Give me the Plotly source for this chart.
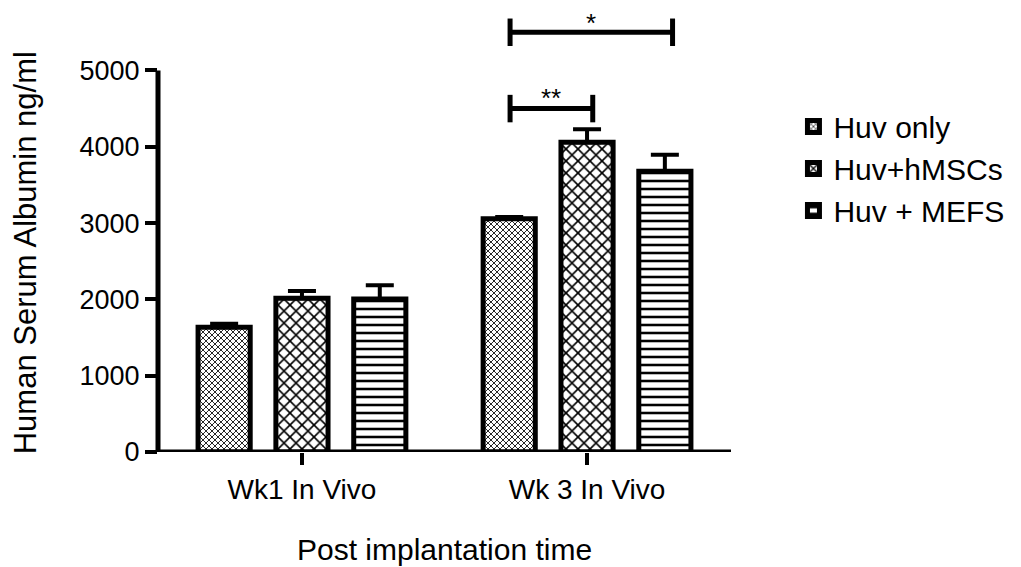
import plotly.graph_objects as go

# ---- data ----
categories = ["Wk1 In Vivo", "Wk 3 In Vivo"]
series_names = ["Huv only", "Huv+hMSCs", "Huv + MEFS"]
huv_only = [1635, 3055]
huv_only_err = [45, 25]
huv_hmscs = [2015, 4060]
huv_hmscs_err = [95, 170]
huv_mefs = [2005, 3680]
huv_mefs_err = [180, 215]
y_ticks = [0, 1000, 2000, 3000, 4000, 5000]

FONT = "Liberation Sans, Arial, sans-serif"

patterns = [
    dict(shape="x", size=4.2426, solidity=0.36, fgcolor="black", bgcolor="white", fgopacity=1),
    dict(shape="x", size=8.4853, solidity=0.36, fgcolor="black", bgcolor="white", fgopacity=1),
    dict(shape="-", size=8, solidity=0.32, fgcolor="black", bgcolor="white", fgopacity=1),
]

fig = go.Figure()
for name, vals, errs, pat in zip(series_names,
                                 [huv_only, huv_hmscs, huv_mefs],
                                 [huv_only_err, huv_hmscs_err, huv_mefs_err],
                                 patterns):
    fig.add_trace(go.Bar(
        x=categories, y=vals, name=name,
        marker=dict(color="white", pattern=pat, line=dict(color="black", width=5)),
        error_y=dict(type="data", array=errs, symmetric=False,
                     arrayminus=[0] * len(errs), color="black", thickness=4, width=14),
    ))

# axis lines (y axis stops at 5000)
fig.add_shape(type="line", xref="paper", yref="y", x0=0, x1=0, y0=0, y1=5000,
              line=dict(color="black", width=5))
fig.add_shape(type="line", xref="paper", yref="y", x0=0, x1=1, y0=0, y1=0,
              line=dict(color="black", width=5))

# significance brackets
def bracket(x0, x1, y, h):
    for (a, b, c, d) in [(x0, y, x1, y), (x0, y - h, x0, y + h), (x1, y - h, x1, y + h)]:
        fig.add_shape(type="line", xref="x", yref="y", x0=a, y0=b, x1=c, y1=d,
                      line=dict(color="black", width=5))

bracket(0.73, 1.30, 5500, 180)
bracket(0.73, 1.02, 4500, 180)
fig.add_annotation(x=1.015, y=5615, xref="x", yref="y", text="*", showarrow=False,
                   xanchor="center", yanchor="middle",
                   font=dict(size=26, color="black", family=FONT))
fig.add_annotation(x=0.875, y=4633, xref="x", yref="y", text="**", showarrow=False,
                   xanchor="center", yanchor="middle",
                   font=dict(size=26, color="black", family=FONT))

# axis titles
fig.add_annotation(x=0.5, y=-0.225, xref="paper", yref="paper", text="Post implantation time",
                   xanchor="center", yanchor="middle",
                   showarrow=False, font=dict(size=30, color="black", family=FONT))
fig.add_annotation(x=-0.232, y=0.457, xref="paper", yref="paper", text="Human Serum Albumin ng/ml",
                   xanchor="center", yanchor="middle",
                   textangle=-90, showarrow=False, font=dict(size=31, color="black", family=FONT))

fig.update_layout(
    width=1021, height=567,
    margin=dict(l=158, r=286, t=16.5, b=115),
    paper_bgcolor="white", plot_bgcolor="white",
    barmode="group", bargap=0.181, bargroupgap=0.33,
    font=dict(family=FONT, color="black", size=27),
    showlegend=True,
    legend=dict(x=1.109, y=0.808, xanchor="left", yanchor="top",
                font=dict(size=30, family=FONT, color="black"),
                bgcolor="rgba(0,0,0,0)", tracegroupgap=6),
    xaxis=dict(range=[-0.505, 1.505], showline=False, showgrid=False, zeroline=False,
               ticks="outside", ticklen=12, tickwidth=4, tickcolor="black",
               tickfont=dict(size=28, family=FONT, color="black")),
    yaxis=dict(range=[0, 5700], tickvals=y_ticks, showline=False, showgrid=False,
               zeroline=False, ticks="outside", ticklen=12, tickwidth=4, tickcolor="black",
               tickfont=dict(size=27, family=FONT, color="black")),
)

fig.write_html("out.html")
